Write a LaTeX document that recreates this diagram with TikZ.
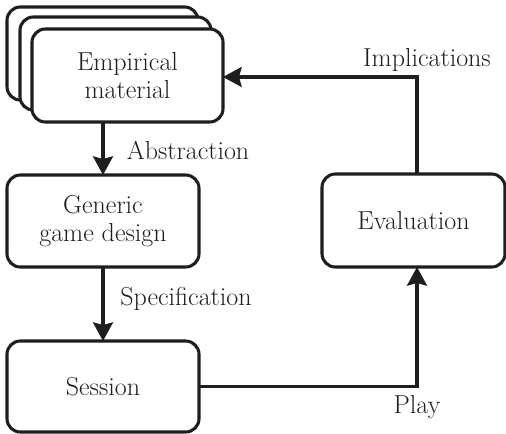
\documentclass[tikz,border=0pt]{standalone}
\usetikzlibrary{arrows.meta}
\definecolor{ink}{HTML}{1E1E1E}
\begin{document}
\begin{tikzpicture}[x=0.75pt,y=-0.75pt,
  box/.style={draw=ink, line width=2.3pt, rounded corners=10pt, fill=white,
    inner sep=0pt, outer sep=0pt, align=center, text=ink,
    font=\fontsize{19.5}{21}\selectfont},
  link/.style={draw=ink, line width=2.3pt, -{Stealth[length=14pt,width=15pt,inset=2pt]}},
  lbl/.style={font=\fontsize{19.5}{21}\selectfont, text=ink, anchor=base, inner sep=0pt}]
\useasboundingbox (0,0) rectangle (506,433);

% stacked cards for the empirical material
\node[box, minimum width=143.25pt, minimum height=69.75pt] (back) at (102.5,53.5) {};
\node[box, minimum width=143.25pt, minimum height=69.75pt] (mid) at (115.5,63.5) {};
\node[box, minimum width=143.25pt, minimum height=69.75pt] (emp) at (127.5,75.5) {Empirical\\material};

% process boxes
\node[box, minimum width=144pt, minimum height=69pt] (gen) at (103,221) {Generic\\game design};
\node[box, minimum width=144pt, minimum height=68.25pt] (ses) at (103,386.5) {Session};
\node[box, minimum width=137.25pt, minimum height=69.75pt] (eva) at (413.5,220.5) {Evaluation};

% bends of the feedback loop
\coordinate (pc) at (417,386.5);
\coordinate (ic) at (417,77);

% connectors
\draw[link] (gen.north |- emp.south) -- (gen.north);
\draw[link] (gen.south) -- (ses.north);
\draw[link, line join=miter] (ses.east) -- (pc) -- (pc |- eva.south);
\draw[link, line join=miter] (ic |- eva.north) -- (ic) -- (emp.east |- ic);

% connector labels
\node[lbl] (abs) at (188,159) {Abstraction};
\node[lbl] (spe) at (186,305) {Specification};
\node[lbl] (imp) at (427,66) {Implications};
\node[lbl] (ply) at (417,413) {Play};
\end{tikzpicture}
\end{document}
